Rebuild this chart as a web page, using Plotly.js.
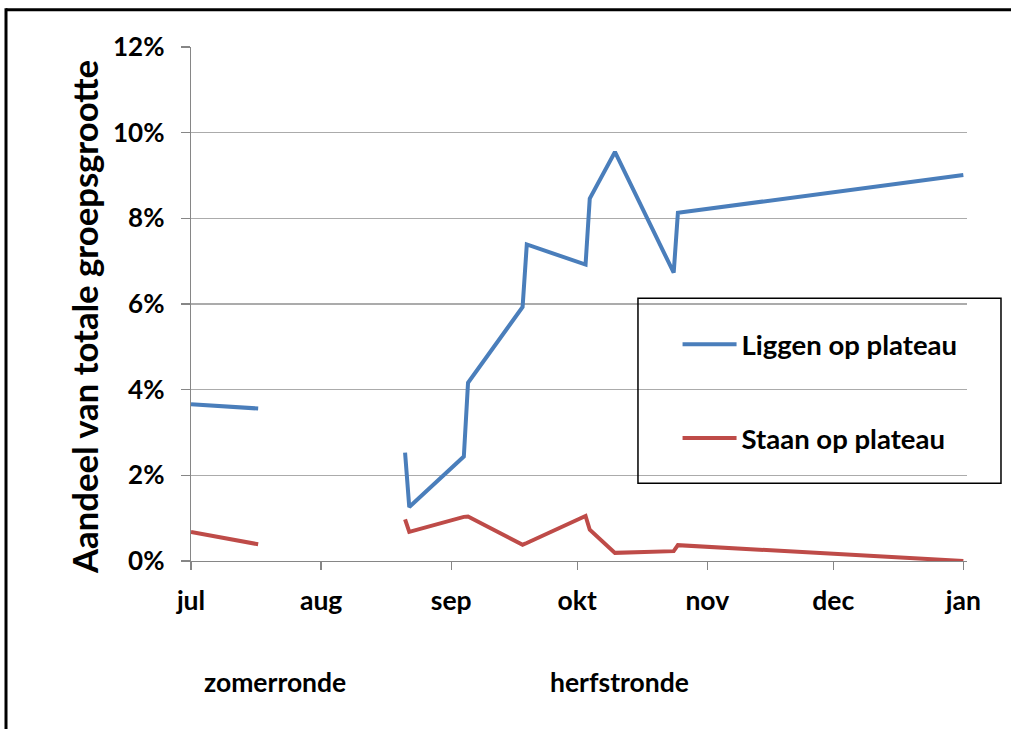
<!DOCTYPE html>
<html>
<head>
<meta charset="utf-8">
<script src="https://cdn.plot.ly/plotly-3.0.1.min.js"></script>
<style>
  html, body { margin: 0; padding: 0; background: #ffffff; }
  #chart { width: 1011px; height: 729px; }
</style>
</head>
<body>
<div id="chart"></div>
<script>
// ---- data ----
const dates = ['2013-07-01','2013-07-17','2013-08-01','2013-08-21','2013-08-22','2013-09-04','2013-09-05',
               '2013-09-18','2013-09-19','2013-10-03','2013-10-04','2013-10-10','2013-10-24','2013-10-25','2014-01-01'];
const liggen = [3.66, 3.56, null, 2.53, 1.26, 2.44, 4.16, 5.93, 7.39, 6.92, 8.46, 9.55, 6.73, 8.13, 9.01];
const staan  = [0.68, 0.39, null, 0.97, 0.68, 1.03, 1.04, 0.38, 0.42, 1.05, 0.73, 0.19, 0.23, 0.37, 0.00];
const seriesNames = ['Liggen op plateau', 'Staan op plateau'];
const tickDates  = ['2013-07-01','2013-08-01','2013-09-01','2013-10-01','2013-11-01','2013-12-01','2014-01-01'];
const tickLabels = ['jul','aug','sep','okt','nov','dec','jan'];
const roundLabels = ['zomerronde', 'herfstronde'];
const roundDates  = ['2013-07-21', '2013-10-11'];
const yTitle = 'Aandeel van totale groepsgrootte';

const FONT = 'Lato, "Open Sans", sans-serif';
const axisGrey = '#868686';

const traces = [
  { x: dates, y: liggen, name: seriesNames[0], type: 'scatter', mode: 'lines', connectgaps: false,
    line: { color: '#4A7EBB', width: 4 }, legendgroup: 'a' },
  { x: dates, y: staan, name: seriesNames[1], type: 'scatter', mode: 'lines', connectgaps: false,
    line: { color: '#BE4B48', width: 4 }, legendgroup: 'b' }
];

const layout = {
  width: 1011, height: 729,
  margin: { l: 191, r: 44, t: 47, b: 168 },
  paper_bgcolor: '#ffffff', plot_bgcolor: '#ffffff',
  font: { family: FONT, size: 26, color: '#000000', weight: 'bold' },
  showlegend: true,
  legend: {
    x: 0.627, y: 0.469, xanchor: 'left', yanchor: 'top',
    bgcolor: 'rgba(0,0,0,0)', borderwidth: 0,
    itemwidth: 54, tracegroupgap: 55,
    font: { family: FONT, size: 27.5, color: '#000', weight: 'bold' }
  },
  xaxis: {
    type: 'date',
    range: ['2013-07-01', '2014-01-01 21:00'],
    tickvals: tickDates, ticktext: tickLabels,
    ticks: 'outside', ticklen: 8, tickwidth: 1.3, tickcolor: axisGrey,
    showline: true, linecolor: axisGrey, linewidth: 1.3,
    showgrid: false, zeroline: false,
    ticklabelstandoff: 8,
    tickfont: { family: FONT, size: 26.5, color: '#000', weight: 'bold' }
  },
  yaxis: {
    range: [0, 12], dtick: 2, tick0: 0, ticksuffix: '%',
    ticks: 'outside', ticklen: 9, tickwidth: 1.3, tickcolor: axisGrey,
    showline: true, linecolor: axisGrey, linewidth: 1.3,
    showgrid: true, gridcolor: '#ababab', gridwidth: 1.3,
    zeroline: false,
    ticklabelstandoff: 11,
    tickfont: { family: FONT, size: 26, color: '#000', weight: 'bold' }
  },
  annotations: [
    { text: yTitle, xref: 'paper', yref: 'paper', x: -0.137, y: 0.474,
      xanchor: 'center', yanchor: 'middle', textangle: -90, showarrow: false,
      font: { family: FONT, size: 34.7, color: '#000', weight: 'bold' } },
    { text: roundLabels[0], xref: 'x', yref: 'paper', x: roundDates[0], y: -0.236,
      xanchor: 'center', yanchor: 'middle', showarrow: false,
      font: { family: FONT, size: 26.5, color: '#000', weight: 'bold' } },
    { text: roundLabels[1], xref: 'x', yref: 'paper', x: roundDates[1], y: -0.236,
      xanchor: 'center', yanchor: 'middle', showarrow: false,
      font: { family: FONT, size: 26.5, color: '#000', weight: 'bold' } }
  ],
  shapes: [
    // legend box
    { type: 'rect', xref: 'paper', yref: 'paper', x0: 0.576, x1: 1.0438, y0: 0.1511, y1: 0.5111,
      line: { color: '#000', width: 1.5 }, fillcolor: 'rgba(0,0,0,0)', layer: 'above' },
    // outer chart frame (top and left edges visible)
    { type: 'line', xref: 'paper', yref: 'paper', x0: -0.2384, x1: 1.06, y0: 1.0724, y1: 1.0724,
      line: { color: '#000', width: 3 } },
    { type: 'line', xref: 'paper', yref: 'paper', x0: -0.2384, x1: -0.2384, y0: 1.0753, y1: -0.33,
      line: { color: '#000', width: 3 } }
  ]
};

Plotly.newPlot('chart', traces, layout, { staticPlot: true, displayModeBar: false });
</script>
</body>
</html>
